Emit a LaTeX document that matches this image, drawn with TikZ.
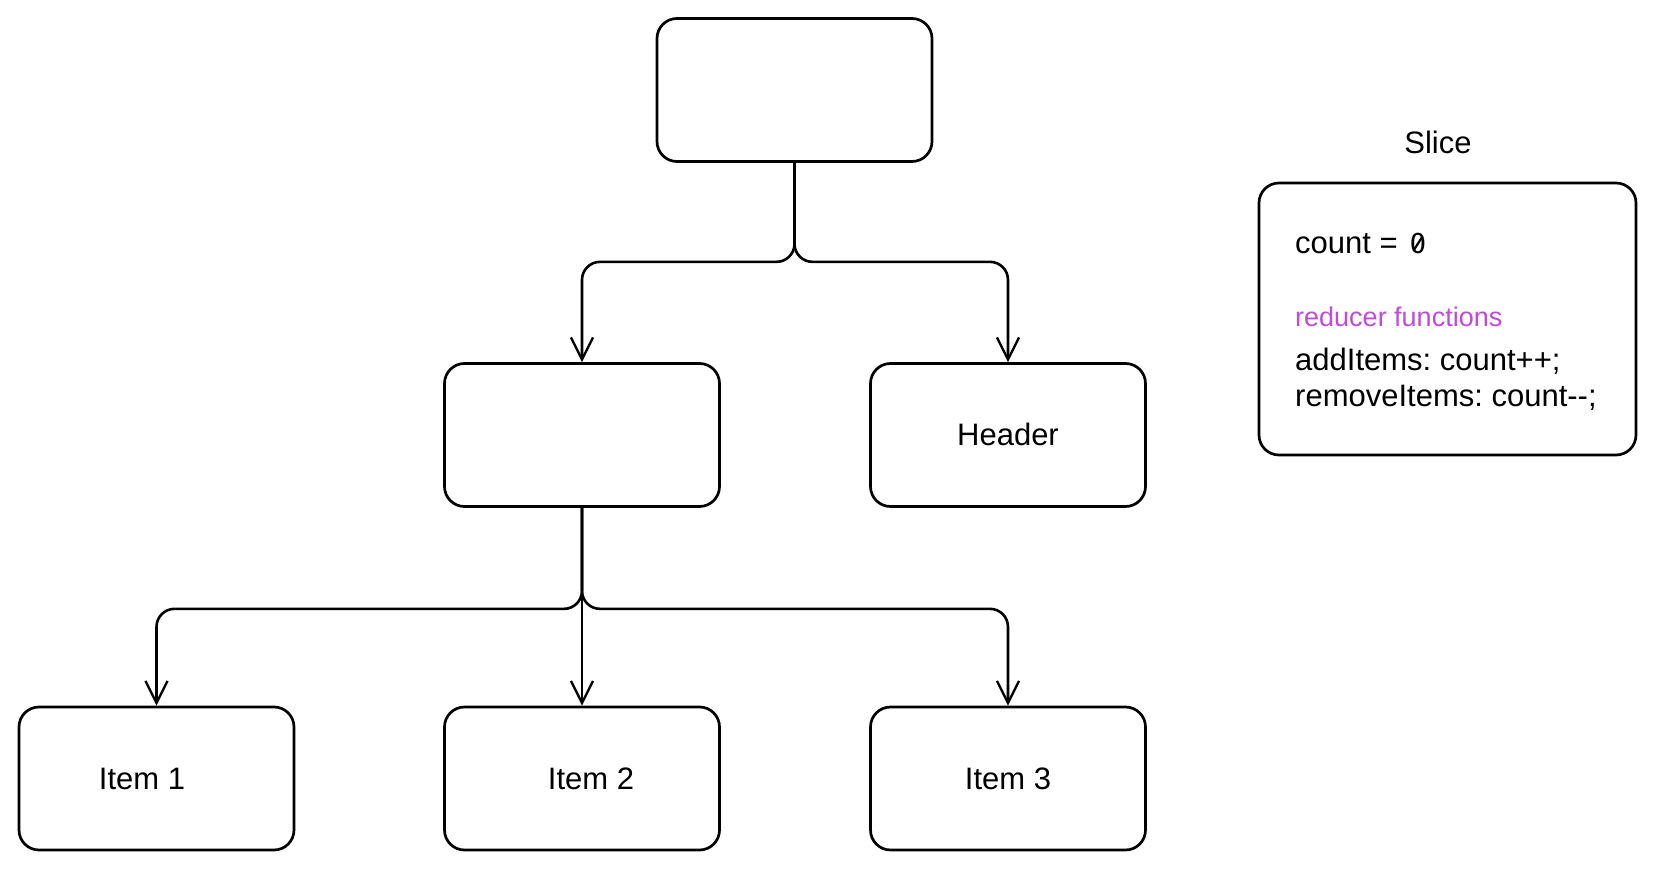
\documentclass[tikz,border=0pt]{standalone}
\usepackage{fontspec}
\setmainfont{Liberation Sans}
\newfontfamily\zerofont[Numbers={Lining,Monospaced}]{Fira Sans}
\usetikzlibrary{arrows.meta,calc}
\definecolor{violetx}{RGB}{190,75,219}
\frenchspacing
\begin{document}
\begin{tikzpicture}[x=1pt,y=-1pt,
  box/.style={draw, line width=2.7pt, rounded corners=20pt, minimum width=275pt, minimum height=143pt, inner sep=0pt},
  conn/.style={draw, line width=2.6pt, rounded corners=18pt, -{Straight Barb[length=22pt,width=22pt,line width=2.4pt]}},
  lbl/.style={font=\fontsize{31}{36}\selectfont, inner sep=0pt},
]
\useasboundingbox (0,0) rectangle (1658,872);
\node[box] (top) at (794.5,90) {};
\node[box] (mid) at (582,435) {};
\node[box] (header) at (1008,435) {};
\node[lbl] (headert) at (1008,434) {Header};
\node[box] (item1) at (156.5,778.5) {};
\node[box] (item2) at (582,778.5) {};
\node[box] (item3) at (1008,778.5) {};
\node[lbl] (item1t) at (142,779) {Item 1};
\node[lbl] (item2t) at (591,779) {Item 2};
\node[lbl] (item3t) at (1008,779) {Item 3};
\node[box, minimum width=377pt, minimum height=272pt] (slice) at (1447.5,319) {};
\node[lbl] (slicet) at (1438,142) {Slice};
\node[lbl, anchor=base west] (count) at (1295,253) {count =};
\node[inner sep=0pt, anchor=base, font=\zerofont\fontsize{29}{30}\selectfont] (zero) at (1418,253.5) {0};
\draw[line width=2.2pt, line cap=round] ($(zero.center)+(-4.3,6.8)$) -- ($(zero.center)+(4.3,-6.8)$);
\node[lbl, anchor=west, font=\fontsize{27}{32}\selectfont, text=violetx] (reducer) at (1295,317) {reducer functions};
\node[lbl, anchor=west, align=left] (fns) at (1295,379) {addItems: count++;\\removeItems: count-{}-;};
\draw[conn] (top.south) -- ++(0,99) -| (mid.north);
\draw[conn] (top.south) -- ++(0,99) -| (header.north);
\draw[conn] (mid.south) -- ++(0,101) -| (item1.north);
\draw[conn] (mid.south) -- (item2.north);
\draw[conn] (mid.south) -- ++(0,101) -| (item3.north);
\end{tikzpicture}
\end{document}
